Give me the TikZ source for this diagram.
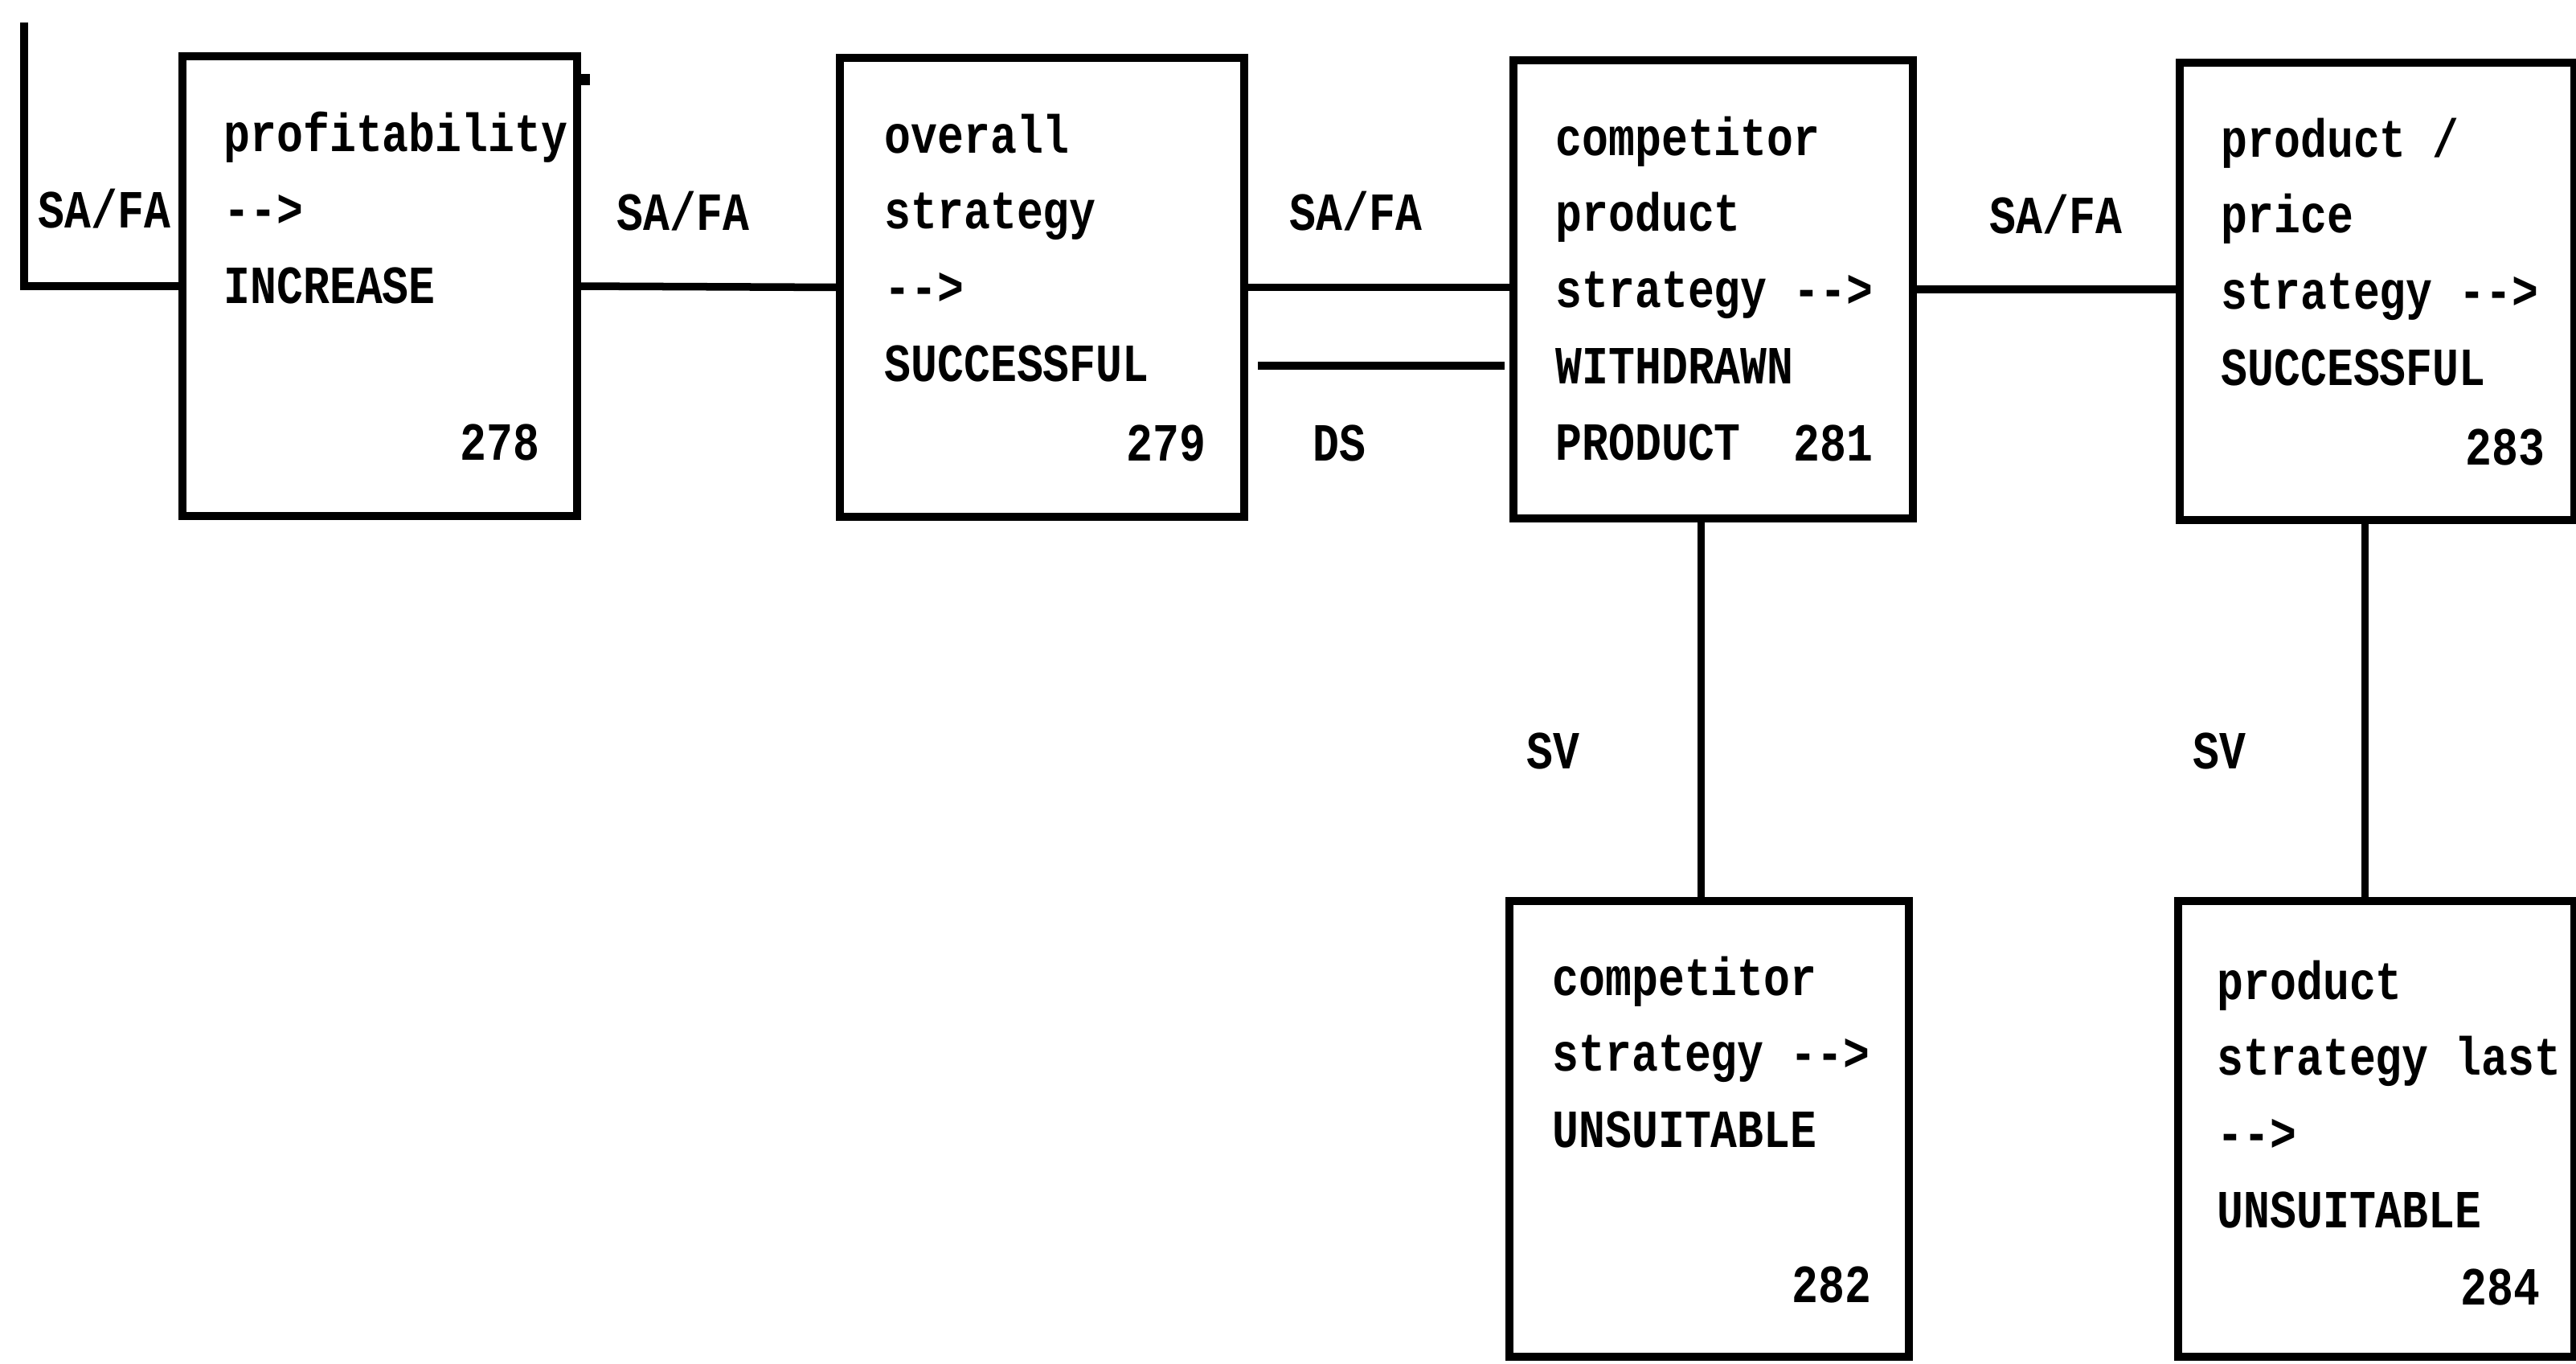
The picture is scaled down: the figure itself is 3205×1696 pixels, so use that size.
\documentclass[tikz,border=0pt]{standalone}
\usepackage{fontspec}
\newfontfamily\printfont{Liberation Mono}[FakeStretch=0.82]
\newcommand\prtfont{\printfont\bfseries\fontsize{19}{27}\selectfont}
\newcommand\lines[1]{\begin{tabular}[t]{@{}l@{}}#1\end{tabular}}
\usetikzlibrary{calc}
\begin{document}
\begin{tikzpicture}[x=0.01cm, y=-0.01cm,
  box/.style={draw, line width=0.1cm, inner sep=0pt, outer sep=0pt},
  link/.style={line width=0.095cm},
  txt/.style={font=\prtfont, inner sep=0pt, anchor=base west},
  num/.style={font=\prtfont, inner sep=0pt, anchor=base east},
  lbl/.style={font=\prtfont, inner sep=0pt, anchor=base}]
\useasboundingbox (0,0) rectangle (3205,1696);
\fill[white] (0,0) rectangle (3205,1696);

% boxes
\node[box, minimum width=4.91cm, minimum height=5.72cm] (b278) at (472.5,356) {};
\node[box, minimum width=5.03cm, minimum height=5.71cm] (b279) at (1296.5,357.5) {};
\node[box, minimum width=4.97cm, minimum height=5.70cm] (b281) at (2131.5,360) {};
\node[box, minimum width=4.91cm, minimum height=5.69cm] (b283) at (2957.5,362.5) {};
\node[box, minimum width=4.97cm, minimum height=5.67cm] (b282) at (2126.5,1404.5) {};
\node[box, minimum width=4.93cm, minimum height=5.67cm] (b284) at (2956.5,1404.5) {};

% box texts
\node[txt] (t278) at (278,188) {\lines{profitability\\-{}-{}>\\INCREASE}};
\node[num] (n278) at (672,572) {278};
\node[txt] (t279) at (1100,190) {\lines{overall\\strategy\\-{}-{}>\\SUCCESSFUL}};
\node[num] (n279) at (1501,573) {279};
\node[txt] (t281) at (1935,193) {\lines{competitor\\product\\strategy -{}-{}>\\WITHDRAWN\\PRODUCT}};
\node[num] (n281) at (2331,573) {281};
\node[txt] (t283) at (2763,195) {\lines{product /\\price\\strategy -{}-{}>\\SUCCESSFUL}};
\node[num] (n283) at (3167,578) {283};
\node[txt] (t282) at (1931,1238) {\lines{competitor\\strategy -{}-{}>\\UNSUITABLE}};
\node[num] (n282) at (2329,1620) {282};
\node[txt] (t284) at (2758,1243) {\lines{product\\strategy last\\-{}-{}>\\UNSUITABLE}};
\node[num] (n284) at (3161,1623) {284};

% incoming line on the left
\coordinate (ltop) at (30,28);
\coordinate (lcorner) at (30,356);
\draw[link] (ltop) -- (lcorner) -- (b278.west);
\fill (716,92) rectangle (734,106);

% horizontal connectors
\draw[link] (b278.east) -- (b279.west);
\draw[link] (b279.east) -- (b279.east -| b281.west);
\coordinate (dsa) at ($(b279.east)+(17,97.5)$);
\coordinate (dsb) at ($(b279.east -| b281.west)+(-11,97.5)$);
\draw[link] (dsa) -- (dsb);
\draw[link] (b281.east) -- (b281.east -| b283.west);

% vertical connectors
\coordinate (v281) at ($(b281.south)+(-15,0)$);
\coordinate (v283) at ($(b283.south)+(-15,0)$);
\draw[link] (v281) -- (v281 |- b282.north);
\draw[link] (v283) -- (v283 |- b284.north);

% connector labels
\node[lbl] (l0) at (130,283) {SA/FA};
\node[lbl] (l1) at (850,286) {SA/FA};
\node[lbl] (l2) at (1687,286) {SA/FA};
\node[lbl] (l3) at (2558,290) {SA/FA};
\node[lbl] (lds) at (1666,573) {DS};
\node[lbl] (lsv1) at (1932,956) {SV};
\node[lbl] (lsv2) at (2761,956) {SV};
\end{tikzpicture}
\end{document}
